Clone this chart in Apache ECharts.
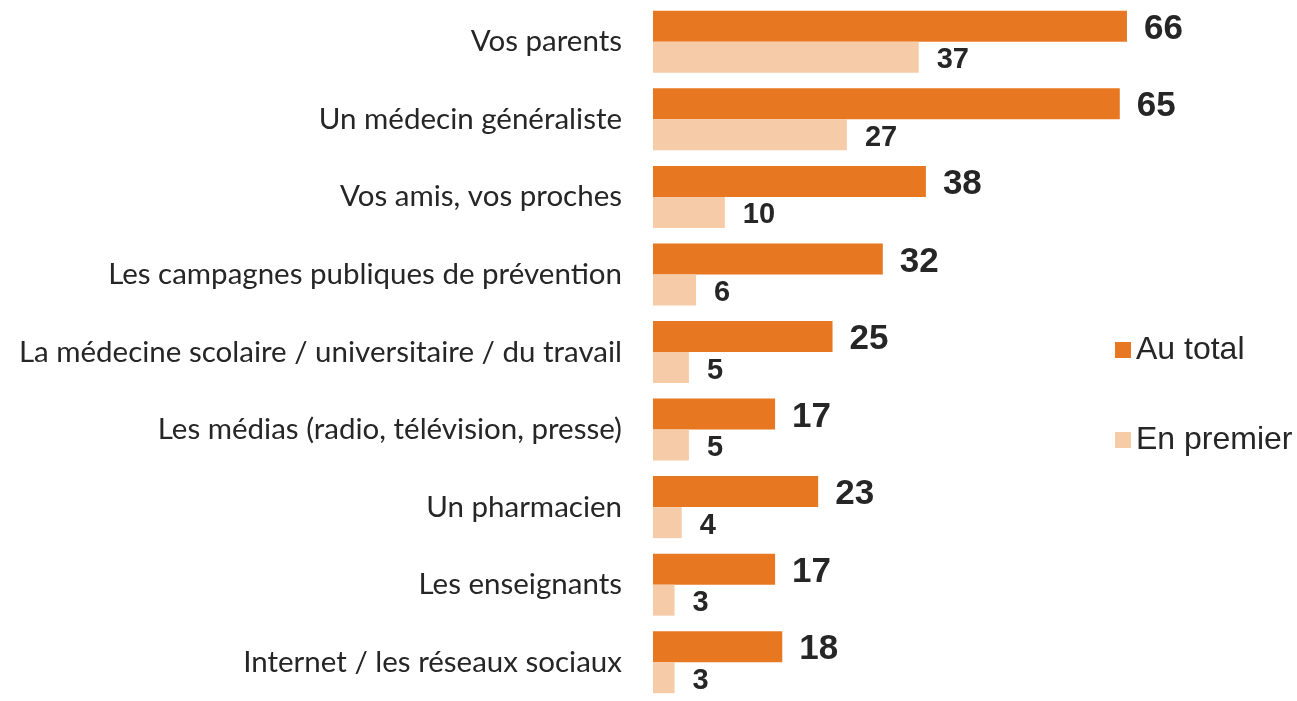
<!DOCTYPE html>
<html>
<head>
<meta charset="utf-8">
<script src="https://cdn.jsdelivr.net/npm/echarts@6/dist/echarts.min.js"></script>
<style>
  html, body { margin: 0; padding: 0; background: #fff; }
  #chart { width: 1297px; height: 701px; }
</style>
</head>
<body>
<div id="chart"></div>
<script>
// catégories (de haut en bas)
var categories = [
  "Vos parents",
  "Un médecin généraliste",
  "Vos amis, vos proches",
  "Les campagnes publiques de prévention",
  "La médecine scolaire / universitaire / du travail",
  "Les médias (radio, télévision, presse)",
  "Un pharmacien",
  "Les enseignants",
  "Internet / les réseaux sociaux"
];
var auTotal = [66, 65, 38, 32, 25, 17, 23, 17, 18];
var enPremier = [37, 27, 10, 6, 5, 5, 4, 3, 3];

var chart = echarts.init(document.getElementById("chart"));

var opts = {
  animation: false,
  grid: {
    left: 653,
    top: 3,
    width: 574.5,
    height: 707,
    containLabel: false
  },
  legend: {
    orient: "vertical",
    left: 1110,
    top: 329,
    itemWidth: 16,
    itemHeight: 16,
    itemGap: 58,
    icon: "rect",
    textStyle: {
      fontFamily: "Liberation Sans, Arial",
      fontSize: 32,
      color: "#262626"
    },
    data: ["Au total", "En premier"]
  },
  xAxis: {
    type: "value",
    min: 0,
    max: 80,
    show: false
  },
  yAxis: {
    type: "category",
    inverse: true,
    data: categories,
    axisLine: { show: false },
    axisTick: { show: false },
    splitLine: { show: false },
    axisLabel: {
      margin: 31,
      padding: [4, 0, 0, 0],
      fontFamily: "Lato",
      fontSize: 29.5,
      color: "#262626"
    }
  },
  series: [
    {
      name: "Au total",
      type: "bar",
      data: auTotal,
      barWidth: 31,
      barGap: "0%",
      barCategoryGap: "20%",
      itemStyle: { color: "#E87722" },
      label: {
        show: true,
        position: "right",
        distance: 17,
        offset: [0, 3],
        fontFamily: "Liberation Sans, Arial",
        fontWeight: "bold",
        fontSize: 35,
        color: "#262626"
      }
    },
    {
      name: "En premier",
      type: "bar",
      data: enPremier,
      barWidth: 31,
      barGap: "0%",
      itemStyle: { color: "#F6CBA8" },
      label: {
        show: true,
        position: "right",
        distance: 18,
        offset: [0, 3],
        fontFamily: "Liberation Sans, Arial",
        fontWeight: "bold",
        fontSize: 29,
        color: "#262626"
      }
    }
  ]
};

chart.setOption(opts);
</script>
</body>
</html>
